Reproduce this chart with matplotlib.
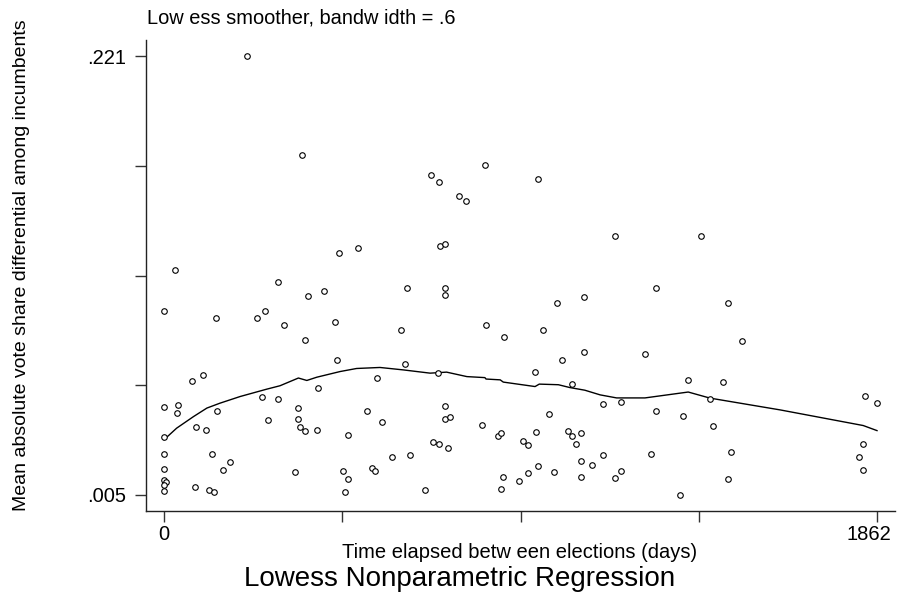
import matplotlib
matplotlib.use("Agg")
import matplotlib.pyplot as plt
from matplotlib.transforms import ScaledTranslation

plt.rcParams['font.family'] = ['Liberation Sans', 'DejaVu Sans']

# days between elections / mean absolute vote share differential
days = [216, 360, 456, 507, 28, 0, 137, 244, 264, 298, 313, 376, 418, 446, 369,
        453, 557, 74, 102, 401, 257, 298, 0, 37, 33, 138, 351, 529, 272, 350,
        83, 110, 355, 369, 399, 480, 0, 0, 125, 173, 154, 0, 341, 467, 542,
        551, 480, 0, 5, 0, 0, 82, 117, 131, 473,
        837, 696, 718, 977, 771, 789, 722, 733, 635, 733, 733, 1027, 1097, 619,
        840, 889, 990, 1098, 1039, 629, 716, 969, 1065, 1147, 1005, 735, 569,
        733, 747, 830, 873, 880, 972, 1054, 1065, 1089, 1076, 938, 950, 703,
        717, 741, 596, 642, 1146, 1090, 1118, 977, 950, 1019, 886, 928, 1089,
        681, 879,
        1178, 1403, 1286, 1474, 1509, 1257, 1368, 1461, 1194, 1425, 1286, 1355,
        1433, 1273, 1481, 1194, 1179, 1474, 1347,
        1831, 1862, 1825, 1816, 1825]
vote_diff = [0.221, 0.1724, 0.1241, 0.1266, 0.1156, 0.0957, 0.0924, 0.0924, 0.0957,
             0.1097, 0.0885, 0.1028, 0.1057, 0.0904, 0.0814, 0.0716, 0.0626, 0.0611,
             0.0640, 0.0576, 0.0532, 0.0522, 0.0483, 0.0491, 0.0456, 0.0466, 0.0478,
             0.0464, 0.0417, 0.0426, 0.0384, 0.0372, 0.0384, 0.0366, 0.0372, 0.0343,
             0.0336, 0.0253, 0.0251, 0.0212, 0.0172, 0.0177, 0.0165, 0.0167, 0.0182,
             0.0169, 0.0128, 0.0123, 0.0113, 0.0098, 0.0070, 0.0090, 0.0075, 0.0065,
             0.0065,
             0.1675, 0.1626, 0.1594, 0.1604, 0.1525, 0.1496, 0.1276, 0.1286, 0.1067,
             0.1067, 0.1037, 0.0998, 0.1023, 0.0865, 0.0887, 0.0830, 0.0865, 0.0755,
             0.0716, 0.0696, 0.0650, 0.0655, 0.0596, 0.0497, 0.0448, 0.0488, 0.0407,
             0.0424, 0.0435, 0.0397, 0.0340, 0.0353, 0.0362, 0.0367, 0.0340, 0.0357,
             0.0302, 0.0317, 0.0297, 0.0313, 0.0302, 0.0282, 0.0239, 0.0248, 0.0246,
             0.0218, 0.0198, 0.0193, 0.0157, 0.0165, 0.0139, 0.0118, 0.0139, 0.0075,
             0.0079,
             0.1325, 0.1325, 0.1067, 0.0997, 0.0806, 0.0745, 0.0616, 0.0606, 0.0507,
             0.0525, 0.0464, 0.0441, 0.0389, 0.0253, 0.0261, 0.0169, 0.0133, 0.0128,
             0.005,
             0.0537, 0.0505, 0.0302, 0.0236, 0.0172]

# lowess curve
lowess_x = [0, 33, 77, 112, 146, 199, 268, 303, 351, 373, 399, 460, 503, 564, 625,
            695, 738, 791, 838, 841, 878, 886, 969, 980, 1030, 1060, 1099, 1139,
            1182, 1256, 1369, 1426, 1609, 1826, 1862]
lowess_y = [0.0322, 0.0379, 0.0436, 0.0478, 0.0502, 0.0535, 0.0571, 0.0588, 0.0626,
            0.0614, 0.0630, 0.0658, 0.0673, 0.0678, 0.0666, 0.0650, 0.0655, 0.0633,
            0.0628, 0.0621, 0.0617, 0.0606, 0.0584, 0.0596, 0.0593, 0.0579, 0.0566,
            0.0543, 0.0528, 0.0528, 0.0557, 0.0527, 0.0469, 0.0392, 0.0367]

y_ticks = [0.005, 0.059, 0.113, 0.167, 0.221]
y_ticklabels = [".005", "", "", "", ".221"]
x_ticks = [0, 465.5, 931, 1396.5, 1862]
x_ticklabels = ["0", "", "", "", "1862"]

fig = plt.figure(figsize=(8.97, 5.95), dpi=100)
ax = fig.add_axes([146 / 897, 84 / 595, 749 / 897, 471 / 595])

ax.plot(days, vote_diff, 'o', mfc='white', mec='black', ms=4, mew=0.8,
        linestyle='none', zorder=3)
ax.plot(lowess_x, lowess_y, color='black', lw=1, zorder=2)

ax.set_xlim(-47, 1909)
ax.set_ylim(-0.0029, 0.2291)
ax.set_xticks(x_ticks)
ax.set_xticklabels(x_ticklabels)
ax.set_yticks(y_ticks)
ax.set_yticklabels(y_ticklabels)
ax.tick_params(axis='both', length=8, width=1, color='#333333', labelsize=14.5)
ax.tick_params(axis='x', pad=2)
ax.tick_params(axis='y', pad=6)

# last x label sits a little left of its tick so it stays inside the image
last = ax.get_xticklabels()[-1]
last.set_transform(last.get_transform() + ScaledTranslation(-8 / 100, 0, fig.dpi_scale_trans))

for side in ['top', 'right']:
    ax.spines[side].set_visible(False)
for side in ['left', 'bottom']:
    ax.spines[side].set_color('#222222')
    ax.spines[side].set_linewidth(1)

fig.text(147 / 897, 1 - 23 / 595, "Low ess smoother, bandw idth = .6",
         fontsize=14.4, ha='left', va='baseline')
fig.text(520 / 897, 1 - 558 / 595, "Time elapsed betw een elections (days)",
         fontsize=14.5, ha='center', va='baseline')
fig.text(460 / 897, 1 - 586 / 595, "Lowess Nonparametric Regression",
         fontsize=20, ha='center', va='baseline')
fig.text(22 / 897, 1 - 265 / 595, "Mean absolute vote share differential among incumbents",
         fontsize=14, rotation=90, ha='center', va='center')

fig.savefig("out.png", dpi=100)
